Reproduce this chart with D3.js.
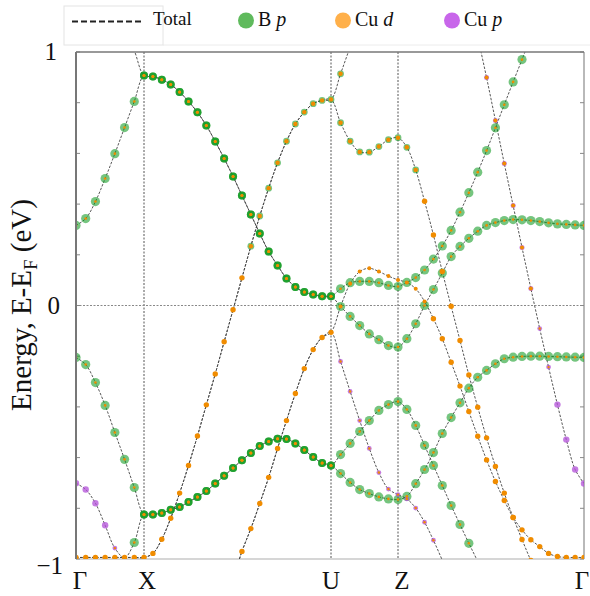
<!DOCTYPE html>
<html>
<head>
<meta charset="utf-8">
<script src="https://cdn.jsdelivr.net/npm/d3@7"></script>
<style>
  html, body { margin: 0; padding: 0; background: #fff; }
  svg { display: block; }
  text { font-family: "Liberation Serif", "Times New Roman", serif; fill: #111; }
</style>
</head>
<body>
<div id="chart"></div>
<script>
// k-path: high symmetry points and number of k-steps in each segment
const kLabels = ["Γ", "X", "U", "Z", "Γ"];
const kTicks = [0, 0.68, 2.55, 3.22, 5.08];
const kSteps = [7, 21, 7, 21];
const energyTicks = [-1, 0, 1];

// band energies (eV) on the k grid: Γ-X (8) | X-U (21) | U-Z (7) | Z-Γ (21)
const band1 = [
  0.316, 0.343, 0.410, 0.501, 0.599, 0.702, 0.805, 0.907,
  0.903, 0.891, 0.872, 0.842, 0.805, 0.762, 0.710, 0.647, 0.580, 0.509, 0.434, 0.359, 0.284, 0.213, 0.158, 0.107, 0.073, 0.053, 0.043, 0.036, 0.036,
  0.066, 0.090, 0.095, 0.095, 0.090, 0.079, 0.075,
  0.091, 0.110, 0.140, 0.183, 0.235, 0.296, 0.368, 0.445, 0.526, 0.611, 0.701, 0.792, 0.882, 0.970, 1.06, null, null, null, null, null, null
];
const band2 = [
  null, null, null, null, null, 1.08, 1.005, 0.907,
  0.903, 0.891, 0.872, 0.842, 0.805, 0.762, 0.710, 0.647, 0.580, 0.509, 0.434, 0.359, 0.284, 0.213, 0.158, 0.107, 0.073, 0.053, 0.043, 0.036, 0.036,
  -0.004, -0.043, -0.079, -0.112, -0.135, -0.158, -0.164,
  -0.131, -0.072, 0.000, 0.063, 0.128, 0.193, 0.233, 0.265, 0.293, 0.316, 0.327, 0.335, 0.339, 0.338, 0.335, 0.331, 0.326, 0.322, 0.320, 0.318, 0.316
];
const band3 = [
  -0.205, -0.233, -0.304, -0.394, -0.501, -0.607, -0.718, -0.824,
  -0.824, -0.819, -0.806, -0.795, -0.775, -0.755, -0.732, -0.702, -0.672, -0.641, -0.610, -0.582, -0.554, -0.536, -0.526, -0.527, -0.544, -0.570, -0.598, -0.621, -0.631,
  -0.588, -0.544, -0.497, -0.454, -0.414, -0.391, -0.379,
  -0.410, -0.473, -0.552, -0.631, -0.710, -0.789, -0.864, -0.938, -1.01, -1.09, null, null, null, null, null, null, null, null, null, null, null
];
const band4 = [
  -0.701, -0.726, -0.780, -0.867, -0.957, -0.995, -0.935, -0.824,
  -0.824, -0.819, -0.806, -0.795, -0.775, -0.755, -0.732, -0.702, -0.672, -0.641, -0.610, -0.582, -0.554, -0.536, -0.526, -0.527, -0.544, -0.570, -0.598, -0.621, -0.631,
  -0.663, -0.698, -0.726, -0.742, -0.755, -0.763, -0.765,
  -0.753, -0.703, -0.647, -0.580, -0.505, -0.442, -0.384, -0.326, -0.283, -0.256, -0.230, -0.210, -0.204, -0.201, -0.200, -0.200, -0.201, -0.202, -0.203, -0.204, -0.205
];
const band5 = [
  -0.994, -0.994, -0.994, -0.994, -0.994, -0.994, -0.994, -0.994,
  -0.978, -0.922, -0.839, -0.740, -0.631, -0.515, -0.392, -0.270, -0.143, -0.017, 0.109, 0.234, 0.353, 0.463, 0.563, 0.648, 0.716, 0.763, 0.796, 0.809, 0.813,
  0.721, 0.648, 0.606, 0.605, 0.627, 0.654, 0.662,
  0.624, 0.535, 0.411, 0.278, 0.134, -0.003, -0.138, -0.274, -0.401, -0.522, -0.635, -0.740, -0.836, -0.923, -1.006, -1.08, null, null, null, null, null
];
const band6 = [
  -0.994, -0.994, -0.994, -0.994, -0.994, -0.994, -0.994, -0.994,
  -0.978, -0.922, -0.839, -0.740, -0.631, -0.515, -0.392, -0.270, -0.143, -0.017, 0.109, 0.234, 0.353, 0.463, 0.563, 0.648, 0.716, 0.763, 0.796, 0.809, 0.813,
  0.914, 1.02, 1.12, null, null, null, null,
  null, null, null, null, null, null, null, null, null, null, null, null, null, null, null, null, null, null, null, null, null
];
const band7 = [
  null, null, null, null, null, null, null, null,
  null, null, null, null, null, null, null, null, -1.18, -1.08, -0.970, -0.880, -0.781, -0.678, -0.564, -0.454, -0.347, -0.249, -0.174, -0.126, -0.106,
  -0.004, 0.086, 0.134, 0.147, 0.134, 0.116, 0.101,
  0.091, 0.066, 0.016, -0.052, -0.131, -0.224, -0.318, -0.418, -0.516, -0.609, -0.694, -0.769, -0.836, -0.885, -0.924, -0.951, -0.978, -0.990, -0.994, -0.994, -0.994
];
const band8 = [
  null, null, null, null, null, null, null, null,
  null, null, null, null, null, null, null, null, -1.18, -1.08, -0.970, -0.880, -0.781, -0.678, -0.564, -0.454, -0.347, -0.249, -0.174, -0.126, -0.106,
  -0.221, -0.339, -0.454, -0.564, -0.659, -0.724, -0.746,
  -0.763, -0.799, -0.855, -0.926, -1.005, -1.09, null, null, null, null, null, null, null, null, null, null, null, null, null, null, null
];
const band9 = [
  null, null, null, null, null, null, null, null,
  null, null, null, null, null, null, null, null, null, null, null, null, null, null, null, null, null, null, null, null, null,
  null, null, null, null, null, null, null,
  null, null, null, null, null, null, null, 1.22, 1.06, 0.899, 0.730, 0.560, 0.394, 0.229, 0.067, -0.091, -0.243, -0.391, -0.529, -0.647, -0.702
];

// dominant orbital character of each k point (same segment order as above)
// g/k: B p, h: B p + Cu d, o/s: Cu d, r/m: Cu d + Cu p, p: Cu p, '.': no marker
const char1 = "gggggggk" + "k".repeat(21) + "g".repeat(7) + "g".repeat(14) + ".".repeat(7);
const char2 = ".......k" + "k".repeat(21) + "g".repeat(7) + "g".repeat(21);
const char3 = "gggggggk" + "k".repeat(21) + "g".repeat(7) + "g".repeat(8) + ".".repeat(13);
const char4 = "ppppm.gk" + "k".repeat(21) + "g".repeat(7) + "g".repeat(21);
const char5 = "o".repeat(8) + "o".repeat(11) + "h".repeat(10) + "h".repeat(7) + "hh" + "o".repeat(13) + ".".repeat(6);
const char6 = ".".repeat(8) + ".".repeat(21) + "h......" + ".".repeat(21);
const char7 = ".".repeat(8) + ".".repeat(10) + "o".repeat(11) + "s".repeat(7) + "sss" + "o".repeat(18);
const char8 = ".".repeat(8) + ".".repeat(21) + "m".repeat(7) + "mmmm" + ".".repeat(17);
const char9 = ".".repeat(36) + ".".repeat(9) + "rrrrrr" + "mm" + "pppp";

const bands = [
  [band1, char1], [band2, char2], [band3, char3], [band4, char4], [band5, char5],
  [band6, char6], [band7, char7], [band8, char8], [band9, char9]
];

// marker radii of each projection for a character code
const markStyle = {
  g: {bp: 4.6, cud: 1.3},
  k: {bp: 4.0, cud: 1.5, dark: true},
  h: {bp: 3.4, cud: 2.2},
  o: {cud: 2.7},
  s: {cud: 2.0, cup: 1.4},
  m: {cup: 2.4, cud: 1.2},
  r: {cup: 2.5, cud: 2.0},
  p: {cup: 3.2}
};
const colors = {bp: "#129b22", cud: "#f08c00", cup: "#b24fd8"};

const width = 590, height = 596;
const plot = {left: 76, right: 584, top: 52, bottom: 559};

const x = d3.scaleLinear().domain([kTicks[0], kTicks[kTicks.length - 1]]).range([plot.left, plot.right]);
const y = d3.scaleLinear().domain([-1, 1]).range([plot.bottom, plot.top]);

// k grid along the path
const kGrid = [];
kSteps.forEach((n, s) => {
  const a = kTicks[s], b = kTicks[s + 1];
  for (let i = (s === 0 ? 0 : 1); i <= n; i++) kGrid.push(a + (b - a) * i / n);
});

const svg = d3.select("#chart").append("svg")
  .attr("width", width)
  .attr("height", height);

svg.append("defs").append("clipPath").attr("id", "plotClip")
  .append("rect")
  .attr("x", plot.left).attr("y", plot.top)
  .attr("width", plot.right - plot.left).attr("height", plot.bottom - plot.top);

// legend
const legend = svg.append("g");
legend.append("line").attr("x1", 163).attr("x2", 590).attr("y1", 45).attr("y2", 45)
  .attr("stroke", "#ececec");
legend.append("rect").attr("x", 64).attr("y", 6).attr("width", 99).attr("height", 39)
  .attr("fill", "#fff").attr("stroke", "#e4e4e4");
legend.append("line").attr("x1", 72).attr("x2", 144).attr("y1", 21.5).attr("y2", 21.5)
  .attr("stroke", "#222").attr("stroke-width", 1.8).attr("stroke-dasharray", "6,3");
legend.append("text").attr("x", 153).attr("y", 25).attr("font-size", 19).text("Total");

const legendItems = [
  {key: "bp", cx: 246, name: "B ", orb: "p", fill: "#5fba5c"},
  {key: "cud", cx: 343, name: "Cu ", orb: "d", fill: "#ffb04a"},
  {key: "cup", cx: 452, name: "Cu ", orb: "p", fill: "#c866ea"}
];
legendItems.forEach(d => {
  legend.append("circle").attr("cx", d.cx).attr("cy", 20.5).attr("r", 8).attr("fill", d.fill);
  const t = legend.append("text").attr("x", d.cx + 12).attr("y", 26).attr("font-size", 20);
  t.append("tspan").text(d.name);
  t.append("tspan").attr("font-style", "italic").text(d.orb);
});

// frame
svg.append("line").attr("x1", plot.left).attr("x2", plot.right).attr("y1", plot.bottom).attr("y2", plot.bottom)
  .attr("stroke", "#c8c8c8").attr("stroke-width", 1.5);
svg.append("line").attr("x1", plot.right).attr("x2", plot.right).attr("y1", plot.top).attr("y2", plot.bottom)
  .attr("stroke", "#8a8a8a").attr("stroke-width", 1.2);

// minor ticks every 0.2 eV, inside on both sides
const minor = d3.range(-1, 1.001, 0.2);
svg.append("g").selectAll("line").data(minor).enter().append("line")
  .attr("x1", plot.left).attr("x2", plot.left + 4)
  .attr("y1", d => y(d)).attr("y2", d => y(d))
  .attr("stroke", "#888");
svg.append("g").selectAll("line").data(minor).enter().append("line")
  .attr("x1", plot.right - 4).attr("x2", plot.right)
  .attr("y1", d => y(d)).attr("y2", d => y(d))
  .attr("stroke", "#888");

// high-symmetry verticals and Fermi level
svg.append("g").selectAll("line").data(kTicks.slice(1, -1)).enter().append("line")
  .attr("x1", d => x(d)).attr("x2", d => x(d))
  .attr("y1", plot.top).attr("y2", plot.bottom)
  .attr("stroke", "#555").attr("stroke-width", 1).attr("stroke-dasharray", "2,1.5");
svg.append("line").attr("x1", plot.left).attr("x2", plot.right).attr("y1", y(0)).attr("y2", y(0))
  .attr("stroke", "#888").attr("stroke-width", 1).attr("stroke-dasharray", "2,1.5");

const body = svg.append("g").attr("clip-path", "url(#plotClip)");

const line = d3.line()
  .defined(d => d.e != null)
  .x(d => x(d.k)).y(d => y(d.e))
  .curve(d3.curveCatmullRom.alpha(0.5));

const bandPts = bands.map(([e, c]) => e.map((v, i) => ({k: kGrid[i], e: v, c: c[i]})));

body.selectAll("path.band").data(bandPts).enter().append("path")
  .attr("class", "band")
  .attr("d", line)
  .attr("fill", "none")
  .attr("stroke", "#444")
  .attr("stroke-width", 0.9)
  .attr("stroke-dasharray", "2.5,1.5");

const marks = bandPts.flat().filter(d => d.e != null && markStyle[d.c] && d.e > -1.03 && d.e < 1.03);

const layers = [
  {key: "bp", opacity: 0.58},
  {key: "cup", opacity: 0.75},
  {key: "cud", opacity: 1}
];
layers.forEach(L => {
  body.append("g").selectAll("circle").data(marks.filter(d => markStyle[d.c][L.key])).enter().append("circle")
    .attr("cx", d => x(d.k)).attr("cy", d => y(d.e))
    .attr("r", d => markStyle[d.c][L.key])
    .attr("fill", colors[L.key])
    .attr("fill-opacity", d => (L.key === "bp" && markStyle[d.c].dark) ? 0.75 : L.opacity);
});

// top and left axis lines
svg.append("line").attr("x1", plot.left).attr("x2", plot.right).attr("y1", plot.top).attr("y2", plot.top)
  .attr("stroke", "#777").attr("stroke-width", 1.5);
svg.append("line").attr("x1", plot.left).attr("x2", plot.left).attr("y1", plot.top).attr("y2", plot.bottom)
  .attr("stroke", "#777").attr("stroke-width", 2);

// y tick labels
svg.append("g").selectAll("text").data(energyTicks).enter().append("text")
  .attr("x", d => d === 1 ? 57 : (d === 0 ? 60 : 63))
  .attr("y", d => y(d) + (d === -1 ? 15 : 8))
  .attr("text-anchor", "end").attr("font-size", 25)
  .text(d => d < 0 ? "\u2212" + Math.abs(d) : d);

// k labels
svg.append("g").selectAll("text").data(kTicks).enter().append("text")
  .attr("x", (d, i) => x(d) + [4, 3, 0, 4, -2][i])
  .attr("y", 589)
  .attr("text-anchor", "middle").attr("font-size", 25)
  .text((d, i) => kLabels[i]);

// y axis title
const yt = svg.append("text")
  .attr("transform", "translate(31,305) rotate(-90)")
  .attr("text-anchor", "middle").attr("font-size", 29);
yt.append("tspan").text("Energy, E-E");
yt.append("tspan").attr("dy", 6).attr("font-size", 19).text("F");
yt.append("tspan").attr("dy", -6).text(" (eV)");
</script>
</body>
</html>
